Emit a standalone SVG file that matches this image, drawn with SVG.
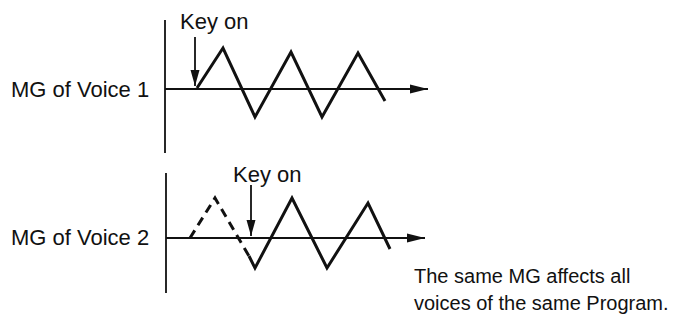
<svg xmlns="http://www.w3.org/2000/svg" width="673" height="321" viewBox="0 0 673 321">
<style>
text{font-family:"Liberation Sans",Arial,sans-serif;font-size:22px;fill:#111}
.note{font-size:20px}
.ax{stroke:#111;stroke-width:1.8;fill:none}
.w{stroke:#111;stroke-width:3;fill:none;stroke-linejoin:miter}
.d{stroke:#111;stroke-width:3;fill:none;stroke-dasharray:9,6}
</style>
<defs>
<marker id="ah" viewBox="0 0 18 11" refX="18" refY="5.5" markerWidth="18" markerHeight="11" markerUnits="userSpaceOnUse" orient="auto"><path d="M0,1 L18,5.5 L0,10 Z" fill="#111"/></marker>
<marker id="kh" viewBox="0 0 16 10" refX="16" refY="5" markerWidth="16" markerHeight="10" markerUnits="userSpaceOnUse" orient="auto"><path d="M0,0.5 L16,5 L0,9.5 Z" fill="#111"/></marker>
</defs>
<rect width="673" height="321" fill="#fff"/>
<g id="voice1">
<text x="11" y="97">MG of Voice 1</text>
<line class="ax" x1="165" y1="20" x2="165" y2="153"/>
<line class="ax" x1="165" y1="89" x2="428" y2="89" marker-end="url(#ah)"/>
<polyline class="w" points="197,88 223,48 255,117 291,52 322,117 358,53 385,101"/>
<text x="180" y="29">Key on</text>
</g>
<g id="voice2">
<text x="11" y="245">MG of Voice 2</text>
<line class="ax" x1="166" y1="173" x2="166" y2="293"/>
<line class="ax" x1="166" y1="238" x2="425" y2="238" marker-end="url(#ah)"/>
<polyline class="d" points="190,238 215,198 249,256"/>
<polyline class="w" points="249,256 255,268 292,198 327,268 368,203 390,249"/>
<text x="233" y="182">Key on</text>
</g>
<g id="note">
<text class="note" x="414" y="283">The same MG affects all</text>
<text class="note" x="414" y="310">voices of the same Program.</text>
</g>
<g id="connectors">
<line class="ax" x1="195" y1="37" x2="195" y2="86" marker-end="url(#kh)"/>
<line class="ax" x1="251" y1="185" x2="251" y2="236" marker-end="url(#kh)"/>
</g>
</svg>
